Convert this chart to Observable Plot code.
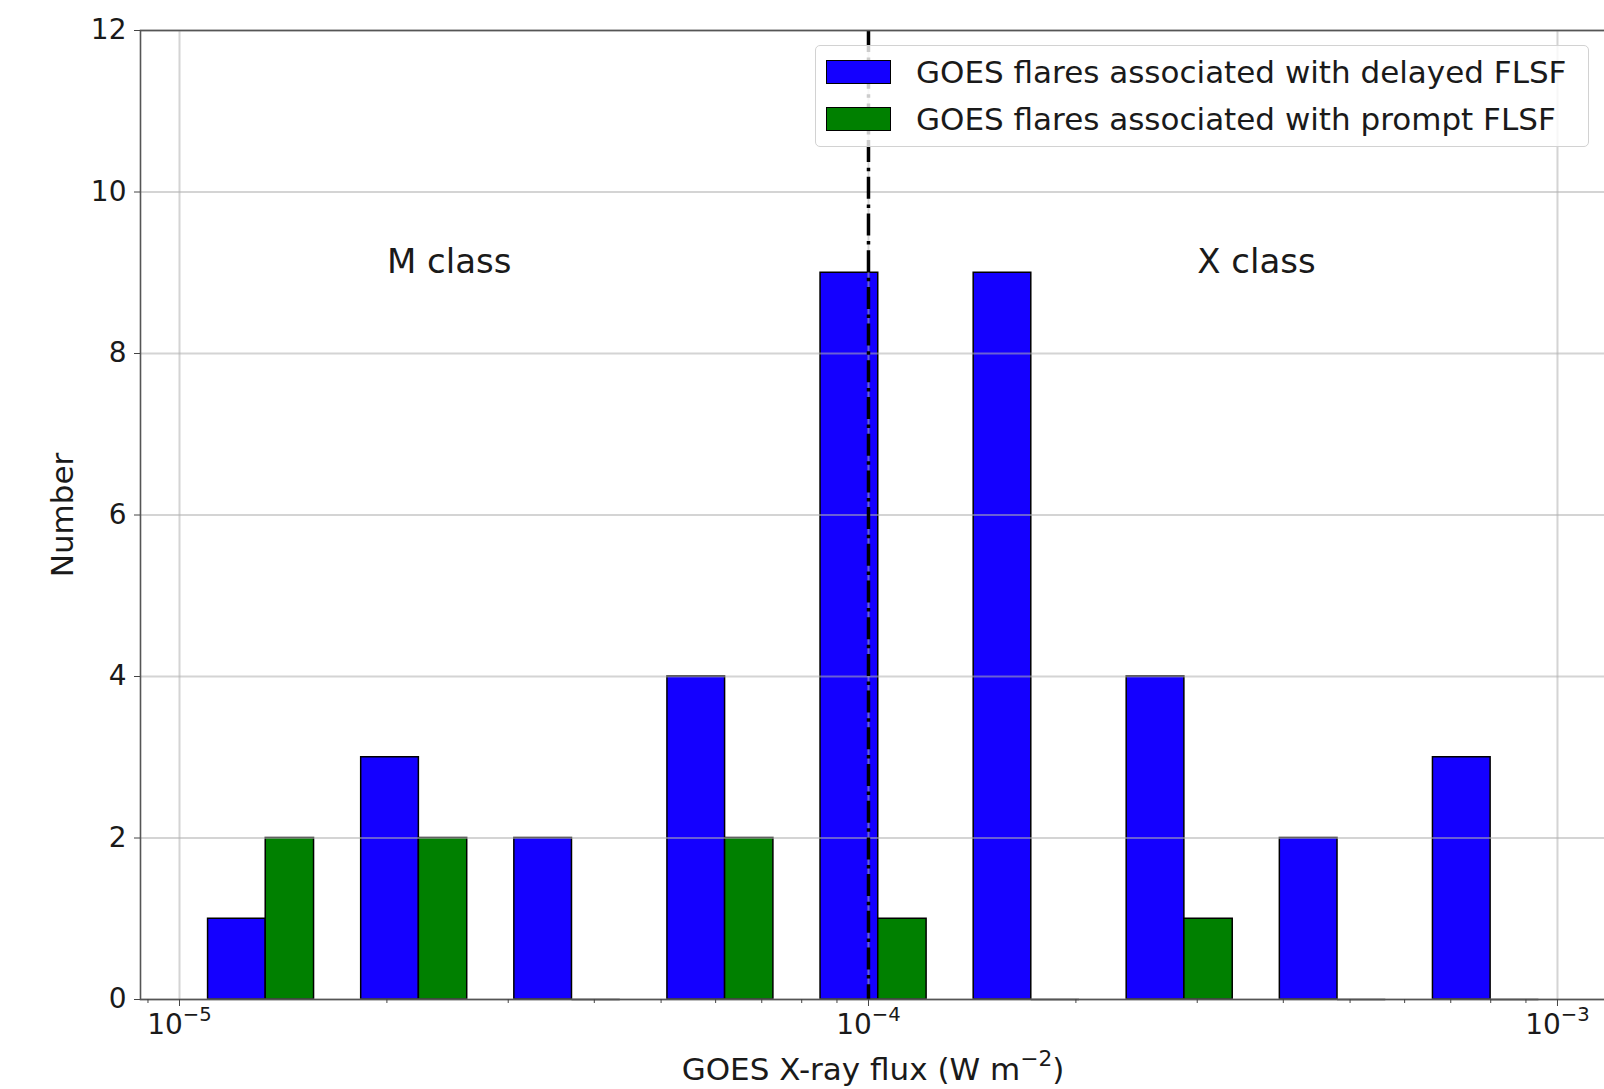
<!DOCTYPE html>
<html>
<head>
<meta charset="utf-8">
<script src="https://cdn.jsdelivr.net/npm/d3@7"></script>
<script src="https://cdn.jsdelivr.net/npm/@observablehq/plot@0.6"></script>
<style>
  html, body { margin: 0; padding: 0; background: #fff; }
  #chart { position: relative; width: 1604px; height: 1089px; font-family: "DejaVu Sans", sans-serif; }
  #chart svg { position: absolute; left: 0; top: 0; }
  .legend {
    position: absolute; left: 815px; top: 45px; width: 774px; height: 102px;
    box-sizing: border-box; background: rgba(255,255,255,0.8);
    border: 1px solid #d2d2d2; border-radius: 5px;
  }
  .legend .row {
    position: absolute; left: 10px; height: 40px;
    display: flex; align-items: center; white-space: nowrap;
  }
  .legend .swatch { width: 65px; height: 24px; box-sizing: border-box; border: 1.5px solid #000; }
  .legend .label { margin-left: 25px; font-size: 31px; color: #1a1a1a; line-height: 40px; }
</style>
</head>
<body>
<div id="chart"></div>
<script>
// Logarithmic flux bins (W m^-2) shared by both histograms
const binEdges = [1.000e-5, 1.668e-5, 2.783e-5, 4.642e-5, 7.743e-5, 1.292e-4, 2.154e-4, 3.594e-4, 5.995e-4, 1.000e-3];
// Flare counts per bin
const delayedCounts = [1, 3, 2, 4, 9, 9, 4, 2, 3];
const promptCounts  = [2, 2, 0, 2, 1, 0, 1, 0, 0];
const seriesNames = ["GOES flares associated with delayed FLSF", "GOES flares associated with prompt FLSF"];
const seriesColors = ["#1400ff", "#008000"];

// Axis ticks
const yTicks = [0, 2, 4, 6, 8, 10, 12];
const majorTicks = [1e-5, 1e-4, 1e-3];
const minorTicks = [9e-6, 2e-5, 3e-5, 4e-5, 5e-5, 6e-5, 7e-5, 8e-5, 9e-5,
                    2e-4, 3e-4, 4e-4, 5e-4, 6e-4, 7e-4, 8e-4, 9e-4];

// Class annotations and the M/X boundary
const classLabels = ["M class", "X class"];
const classLabelX = [2e-5, 3e-4];
const classLabelY = 9;
const boundaryFlux = 1e-4;

const xLabel = "GOES X-ray flux (W m^-2)";
const yLabel = "Number";

// Side-by-side bars inside each bin: each series takes 35% of the bin's linear width
const bars = [];
for (let i = 0; i < delayedCounts.length; i++) {
  const lo = binEdges[i], w = binEdges[i + 1] - lo;
  bars.push({series: 0, x1: lo + 0.15 * w, x2: lo + 0.5 * w, count: delayedCounts[i]});
  bars.push({series: 1, x1: lo + 0.5 * w, x2: lo + 0.85 * w, count: promptCounts[i]});
}

const chart = Plot.plot({
  width: 1604,
  height: 1089,
  marginLeft: 140,
  marginTop: 30,
  marginBottom: 90,
  marginRight: -1,
  style: {fontFamily: '"DejaVu Sans", sans-serif', fontSize: "28px", color: "#1a1a1a", background: "white"},
  x: {type: "log", domain: [Math.pow(10, -5.0566), Math.pow(10, -2.9303)]},
  y: {domain: [0, 12]},
  marks: [
    Plot.rect(bars.filter(d => d.count > 0), {
      x1: "x1", x2: "x2", y1: 0, y2: "count",
      fill: d => seriesColors[d.series], stroke: "black", strokeWidth: 1.5
    }),
    Plot.ruleY(bars.filter(d => d.count === 0), {x1: "x1", x2: "x2", y: 0, stroke: "black", strokeWidth: 1.5}),
    Plot.gridY(yTicks, {stroke: "#b0b0b0", strokeOpacity: 0.55, strokeWidth: 2}),
    Plot.gridX(majorTicks, {stroke: "#b0b0b0", strokeOpacity: 0.55, strokeWidth: 2}),
    Plot.ruleX([boundaryFlux], {stroke: "black", strokeWidth: 3.5, strokeDasharray: "22,5.6,3.5,5.6"}),
    Plot.text(classLabels, {
      x: (d, i) => classLabelX[i], y: classLabelY, text: d => d,
      textAnchor: "start", lineAnchor: "bottom", fontSize: 34, fill: "#1a1a1a"
    }),
    Plot.frame({stroke: "#555", strokeWidth: 1.6}),
    Plot.axisY(yTicks, {tickSize: 6, tickPadding: 8, label: null, stroke: "#444", tickFormat: d => String(d)}),
    Plot.axisX(majorTicks, {
      tickSize: 7, tickPadding: 8, label: null, stroke: "#444",
      tickFormat: d => "10^" + Math.round(Math.log10(d))
    }),
    Plot.axisX(minorTicks, {tickSize: 4, label: null, stroke: "#444", tickFormat: () => ""}),
    Plot.text([yLabel], {frameAnchor: "left", dx: -77, rotate: -90, textAnchor: "middle", fontSize: 31, fill: "#1a1a1a"}),
    Plot.text([xLabel], {frameAnchor: "bottom", dy: 80, textAnchor: "middle", lineAnchor: "bottom", fontSize: 31, fill: "#1a1a1a"})
  ]
});

// Render power-of-ten exponents as superscripts
d3.select(chart).selectAll("text").each(function () {
  const t = this.textContent;
  const m = /^10\^(-?\d+)$/.exec(t);
  if (m) {
    const sel = d3.select(this);
    sel.text("10");
    sel.append("tspan").attr("dy", -13).attr("font-size", 19.6)
      .text(m[1].replace("-", "\u2212"));
  } else if (t === xLabel) {
    const sel = d3.select(this);
    sel.text("GOES X-ray flux (W m");
    sel.append("tspan").attr("dy", -14).attr("font-size", 21.7).text("\u22122");
    sel.append("tspan").attr("dy", 14).attr("font-size", 31).text(")");
  }
});

const root = document.getElementById("chart");
root.appendChild(chart);

// Legend drawn inside the plot area, top right
const legend = document.createElement("div");
legend.className = "legend";
seriesNames.forEach((name, i) => {
  const row = document.createElement("div");
  row.className = "row";
  row.style.top = (6 + i * 47) + "px";
  const sw = document.createElement("div");
  sw.className = "swatch";
  sw.style.background = seriesColors[i];
  const lab = document.createElement("span");
  lab.className = "label";
  lab.textContent = name;
  row.appendChild(sw);
  row.appendChild(lab);
  legend.appendChild(row);
});
root.appendChild(legend);
</script>
</body>
</html>
